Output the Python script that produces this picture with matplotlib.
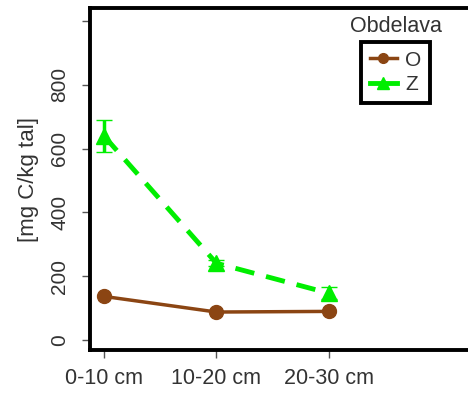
import matplotlib
matplotlib.use("Agg")
import matplotlib.pyplot as plt
from matplotlib.lines import Line2D

plt.rcParams["font.family"] = ["Liberation Sans", "DejaVu Sans"]

DEPTHS = ["0-10 cm", "10-20 cm", "20-30 cm"]
X_POS = [1, 2, 3]

O_MEAN = [137, 88, 90]
O_ERR = [10, 8, 8]

Z_MEAN = [640, 241, 147]
Z_ERR = [50, 10, 18]

BROWN = "#8B4513"
GREEN = "#00EE00"

fig = plt.figure(figsize=(4.68, 3.94), dpi=100)
ax = fig.add_axes([90 / 468, 44 / 394, 385 / 468, 342 / 394])

ax.errorbar(X_POS, O_MEAN, yerr=O_ERR, color=BROWN, linewidth=2.5,
            marker="o", markersize=10, capsize=4, elinewidth=2, zorder=3)
ax.errorbar(X_POS, Z_MEAN, yerr=Z_ERR, color=GREEN, linewidth=3.5,
            linestyle=(0, (4, 2.5)), marker="^", markersize=12,
            capsize=6, elinewidth=2.5, zorder=4)

ax.set_xlim(0.876, 4.3)
ax.set_ylim(-31, 1041)
ax.set_xticks(X_POS)
ax.set_xticklabels(DEPTHS, fontsize=15.5)
ax.set_yticks([0, 200, 400, 600, 800, 1000])
ax.set_yticklabels(["0", "200", "400", "600", "800", ""], fontsize=15,
                   rotation=90, va="center")
ax.tick_params(axis="both", direction="out", length=6, width=1,
               colors="#555555", labelcolor="#333333", pad=7)
ax.tick_params(axis="y", pad=9)
ax.set_ylabel("[mg C/kg tal]", fontsize=16, color="#333333", labelpad=8)

for side in ["left", "bottom", "top", "right"]:
    ax.spines[side].set_linewidth(2.8)
    ax.spines[side].set_color("black")

fig.text(396 / 468, 1 - 27 / 394, "Obdelava", fontsize=15.5,
         color="#333333", ha="center", va="center")
handles = [
    Line2D([], [], color=BROWN, linewidth=2.5, marker="o", markersize=7),
    Line2D([], [], color=GREEN, linewidth=3.5, marker="^", markersize=8),
]
leg = ax.legend(handles, ["O", "Z"], loc="upper left",
                bbox_to_anchor=(361 / 468, 1 - 42 / 394),
                bbox_transform=fig.transFigure, fontsize=15,
                handlelength=1.3, handletextpad=0.4, labelspacing=0.25,
                borderpad=0.42, borderaxespad=0, fancybox=False,
                framealpha=1, edgecolor="black")
leg.get_frame().set_linewidth(2.8)
for text in leg.get_texts():
    text.set_color("#333333")

fig.savefig("out.png", dpi=100)
